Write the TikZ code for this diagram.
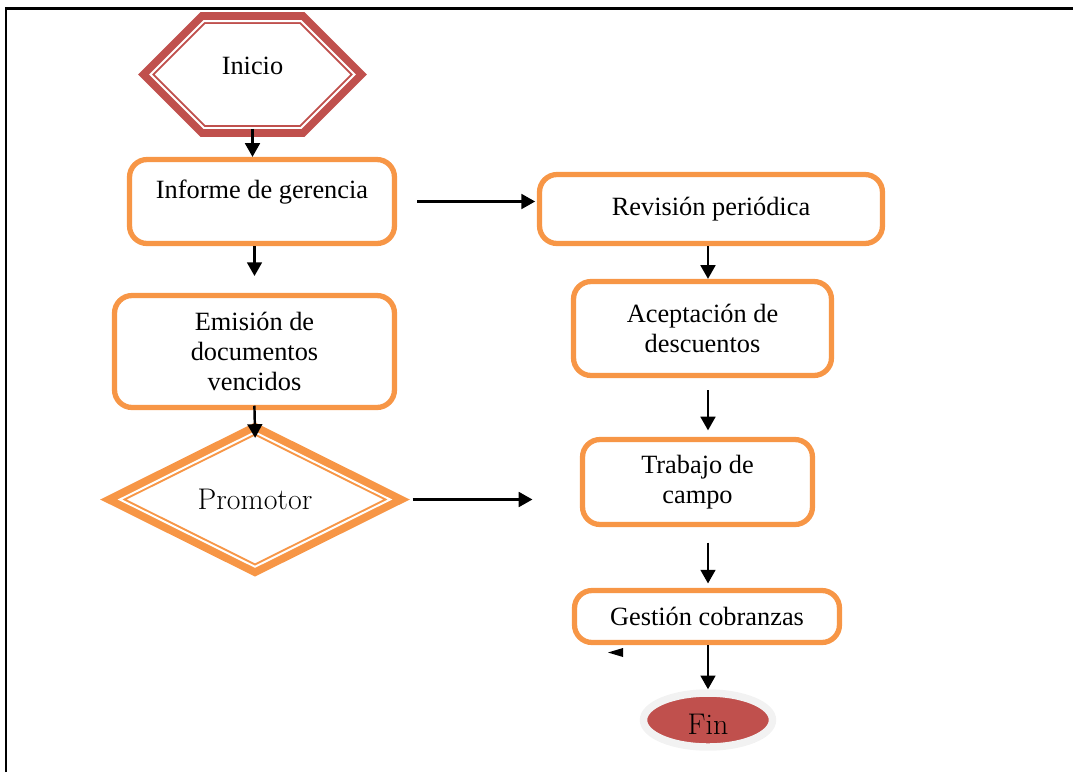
\documentclass[tikz,border=0pt]{standalone}
\usepackage{fontspec}
\setmainfont{Liberation Serif}
\usetikzlibrary{arrows.meta,%
                shapes.geometric,%
                shapes.symbols,%
                shadows}
\definecolor{naranja}{HTML}{F79646}
\definecolor{rojo}{HTML}{C0504D}
\definecolor{anillo}{HTML}{F2F2F2}
\definecolor{sombra}{HTML}{C4A0A0}
\tikzstyle{proceso}=[rectangle, rounded corners=10pt, draw=naranja, line width=3pt, fill=white, align=center, inner sep=2pt, font=\fontsize{15}{17}\selectfont]
\tikzstyle{inicio}=[signal, signal to=west and east, signal pointer angle=90, draw=rojo, fill=white, line width=1.13pt, double=white, double distance=1.13pt, preaction={draw=rojo, line width=10pt}, minimum width=4.08cm, minimum height=2.14cm, inner sep=0pt, text depth=10pt, font=\fontsize{15}{17}\selectfont]
\tikzstyle{decision}=[diamond, draw=naranja, fill=white, line width=1.13pt, double=white, double distance=1.13pt, preaction={draw=naranja, line width=10pt}, minimum width=5.42cm, minimum height=2.32cm, inner sep=0pt, font=\fontfamily{lmr}\fontsize{17}{19}\selectfont]
\tikzstyle{terminal}=[ellipse, fill=rojo, draw=anillo, line width=4.25pt, minimum width=2.58cm, minimum height=1.08cm, inner sep=0pt, text height=17pt, drop shadow={shadow xshift=1pt, shadow yshift=-1.5pt, fill=sombra, opacity=1}, font=\fontfamily{lmr}\fontsize{17}{19}\selectfont]
\tikzstyle{flujo}=[-{Triangle[length=7.8pt,width=8.4pt]}, line width=1.4pt]

\begin{document}
\begin{tikzpicture}[x=0.02cm, y=-0.02cm]
  \useasboundingbox (0,0) rectangle (1073,772);
  \draw[line width=1.7pt] (6,772) -- (6,8) -- (1073,8);

  \node[inicio] (inicio) at (252.5,74.5) {Inicio};
  \node[proceso, minimum width=5.3cm, minimum height=1.68cm, text depth=14pt] (informe) at (262,201.5) {Informe de gerencia};
  \node[proceso, minimum width=6.86cm, minimum height=1.38cm] (revision) at (711,209) {Revisión periódica};
  \node[proceso, minimum width=5.6cm, minimum height=2.24cm] (emision) at (254.5,351.5) {Emisión de\\documentos\\vencidos};
  \node[proceso, minimum width=5.16cm, minimum height=1.88cm] (aceptacion) at (702.5,328.5) {Aceptación de\\descuentos};
  \node[decision] (promotor) at (255,499.5) {Promotor};
  \node[proceso, minimum width=4.6cm, minimum height=1.7cm] (trabajo) at (697.5,482) {Trabajo de\\campo};
  \node[proceso, minimum width=5.3cm, minimum height=1.04cm] (gestion) at (707,616.5) {Gestión cobranzas};
  \node[terminal] (fin) at (708,720) {Fin};

    \draw[flujo] (inicio.south) -- (informe.north -| inicio.south);
    \draw[flujo, shorten >=9.6pt] (informe.south -| emision.north) -- (emision.north);
    \draw[flujo, shorten <=-2.5pt, shorten >=-4pt] (emision.south) -- (promotor.north);
    \draw[flujo, shorten <=11.5pt, shorten >=1pt] (informe.east) -- (revision.west |- informe.east);
    \draw[flujo, shorten <=12pt, shorten >=27pt] (promotor.east) -- (trabajo.west |- promotor.east);
    \draw[flujo] (revision.south -| fin) -- (aceptacion.north -| fin);
    \draw[flujo, shorten <=7pt, shorten >=3.7pt] (aceptacion.south -| fin) -- (trabajo.north -| fin);
    \draw[flujo, shorten <=8.8pt, shorten >=2.5pt] (trabajo.south -| fin) -- (gestion.north -| fin);
    \draw[flujo] (gestion.south -| fin) -- (fin.north);
  \fill (623,648) -- (608,652.5) -- (623,657) -- cycle;
\end{tikzpicture}
\end{document}
